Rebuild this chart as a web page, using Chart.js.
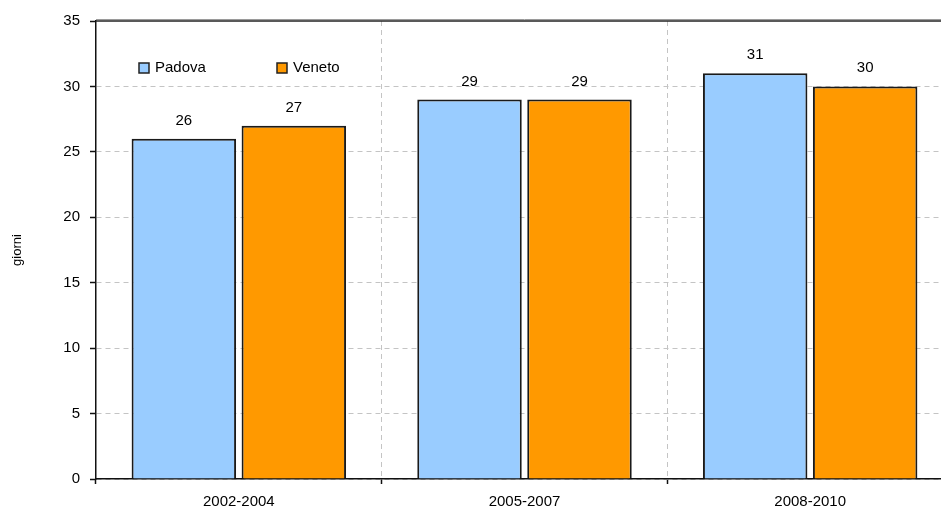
<!DOCTYPE html>
<html lang="it">
<head>
<meta charset="utf-8">
<title>giorni</title>
<script src="https://cdn.jsdelivr.net/npm/chart.js@4.4.1/dist/chart.umd.min.js"></script>
<style>
  html, body { margin: 0; padding: 0; background: #fff; overflow: hidden; }
  #wrap { width: 960px; height: 513px; }
</style>
</head>
<body>
<div id="wrap"><canvas id="giorniChart" width="960" height="513"></canvas></div>
<script>
// Periodi e valori (giorni)
const periodi = ["2002-2004", "2005-2007", "2008-2010"];
const padova = [26, 29, 31];
const veneto = [27, 29, 30];
const yTicks = [0, 5, 10, 15, 20, 25, 30, 35];

const FONT = "'Liberation Sans', Arial, sans-serif";

// Valore sopra ogni barra
const etichette = {
  id: "etichette",
  afterDatasetsDraw(chart) {
    const ctx = chart.ctx;
    ctx.save();
    ctx.font = "15px " + FONT;
    ctx.fillStyle = "#000";
    ctx.textAlign = "center";
    ctx.textBaseline = "alphabetic";
    chart.data.datasets.forEach((ds, i) => {
      chart.getDatasetMeta(i).data.forEach((bar, j) => {
        ctx.fillText(ds.data[j], bar.x, bar.y - 14);
      });
    });
    ctx.restore();
  },
};

// Legenda dentro l'area del grafico + bordo superiore
const legendaInterna = {
  id: "legendaInterna",
  afterDraw(chart) {
    const { ctx, chartArea } = chart;
    ctx.save();
    // bordo superiore
    ctx.strokeStyle = "#9a9a9a";
    ctx.lineWidth = 1;
    ctx.beginPath();
    ctx.moveTo(chartArea.left, chartArea.top - 1.5);
    ctx.lineTo(chartArea.right, chartArea.top - 1.5);
    ctx.stroke();
    ctx.strokeStyle = "#222";
    ctx.lineWidth = 1.5;
    ctx.beginPath();
    ctx.moveTo(chartArea.left, chartArea.top);
    ctx.lineTo(chartArea.right, chartArea.top);
    ctx.stroke();

    const y = chartArea.top + 47;
    const posizioni = [chartArea.left + 43, chartArea.left + 181];
    ctx.font = "15px " + FONT;
    ctx.textBaseline = "middle";
    ctx.textAlign = "left";
    chart.data.datasets.forEach((ds, i) => {
      const x = posizioni[i];
      ctx.fillStyle = ds.backgroundColor;
      ctx.fillRect(x, y - 5, 10, 10);
      ctx.strokeStyle = "#222";
      ctx.lineWidth = 1.5;
      ctx.strokeRect(x, y - 5, 10, 10);
      ctx.fillStyle = "#000";
      ctx.fillText(ds.label, x + 16, y);
    });
    ctx.restore();
  },
};

new Chart(document.getElementById("giorniChart").getContext("2d"), {
  type: "bar",
  data: {
    labels: periodi,
    datasets: [
      {
        label: "Padova",
        data: padova,
        backgroundColor: "#99ccff",
        borderColor: "#1a1a1a",
        borderWidth: 2,
        categoryPercentage: 0.77,
        barPercentage: 0.95,
      },
      {
        label: "Veneto",
        data: veneto,
        backgroundColor: "#ff9900",
        borderColor: "#1a1a1a",
        borderWidth: 2,
        categoryPercentage: 0.77,
        barPercentage: 0.95,
      },
    ],
  },
  options: {
    responsive: false,
    animation: false,
    layout: { padding: { left: 0, top: 21, right: 7, bottom: 0 } },
    plugins: {
      legend: { display: false },
      tooltip: { enabled: false },
    },
    scales: {
      x: {
        offset: true,
        grid: {
          offset: true,
          color: "#c4c4c4",
          lineWidth: 1,
          drawTicks: true,
          tickLength: 5,
          tickColor: "#111",
          tickWidth: 1.5,
        },
        border: { display: true, color: "#111", width: 1.5, dash: [5, 4] },
        ticks: {
          color: "#000",
          font: { family: FONT, size: 15 },
          padding: 9,
          maxRotation: 0,
        },
        afterFit(scale) { scale.height = 34; },
      },
      y: {
        min: 0,
        max: 35,
        afterBuildTicks(scale) {
          scale.ticks = yTicks.map((v) => ({ value: v }));
        },
        grid: {
          color: (c) => (c.tick && c.tick.value === 35 ? "rgba(0,0,0,0)" : "#c4c4c4"),
          lineWidth: 1,
          drawTicks: true,
          tickLength: 6,
          tickColor: "#111",
          tickWidth: 1.5,
        },
        border: { display: true, color: "#111", width: 1.5, dash: [5, 4] },
        ticks: {
          color: "#000",
          font: { family: FONT, size: 15 },
          padding: 10,
        },
        title: {
          display: true,
          text: "giorni",
          color: "#000",
          font: { family: FONT, size: 13 },
          padding: { top: 10, bottom: 0 },
        },
        afterFit(scale) { scale.width = 96; },
      },
    },
  },
  plugins: [etichette, legendaInterna],
});
</script>
</body>
</html>
